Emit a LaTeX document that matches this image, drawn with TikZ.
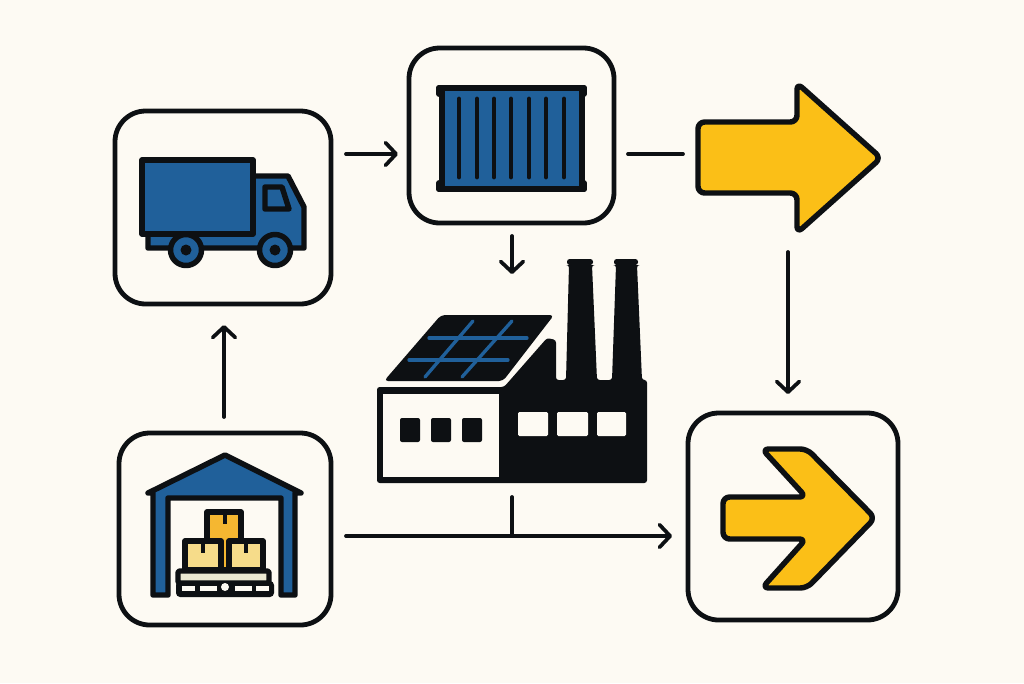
\documentclass[tikz,border=0pt]{standalone}
\usetikzlibrary{arrows.meta}
\definecolor{paper}{HTML}{FDFAF3}
\definecolor{ink}{HTML}{0D1013}
\definecolor{steel}{HTML}{20609A}
\definecolor{amber}{HTML}{FBBF17}
\definecolor{boxtop}{HTML}{F5B731}
\definecolor{boxlow}{HTML}{F6DC8A}
\definecolor{plank}{HTML}{EAE8D2}
\tikzset{
  card/.style={draw=ink,line width=3.6pt,rounded corners=23pt,fill=paper,inner sep=0pt,outer sep=0pt},
  conn/.style={draw=ink,line width=2.8pt,line cap=round},
  tip/.style={conn,-{Straight Barb[length=8pt,width=17pt,line width=2.8pt,round]}},
  icon/.style={draw=ink,line width=4.1pt,line join=round},
  blueicon/.style={icon,fill=steel},
  yellowicon/.style={icon,fill=amber,rounded corners=5pt},
  solid ink/.style={fill=ink,rounded corners=1.5pt},
  grid line/.style={draw=steel,line width=2.5pt,line cap=round},
  rib/.style={draw=ink,line width=3.6pt,line cap=round},
  edge bar/.style={draw=ink,line width=4.4pt,line cap=round},
  tape/.style={draw=ink,line width=3.2pt},
}
\begin{document}
\begin{tikzpicture}[x=0.75pt,y=-0.75pt]
\useasboundingbox (0,0) rectangle (1024,683);
\fill[paper] (0,0) rectangle (1024,683);

% cards
\node[card,minimum width=162pt,minimum height=144.75pt] (truckcard) at (223,207.5) {};
\node[card,minimum width=153.75pt,minimum height=131.25pt] (containercard) at (511.5,135.5) {};
\node[card,minimum width=159pt,minimum height=144pt] (warehousecard) at (225,529) {};
\node[card,minimum width=157.5pt,minimum height=155.25pt] (finalcard) at (793,516.5) {};

% truck
\draw[blueicon] (253,176) -- (288,176) -- (304,207) -- (304,248) -- (148,248) -- (148,232) -- (253,232) -- cycle;
\draw[blueicon] (142,160) rectangle (253,234);
\draw[icon,fill=steel] (265,187) -- (282,187) -- (289,209) -- (265,209) -- cycle;
\foreach \wx in {186,275}{
  \draw[blueicon] (\wx,250) circle[radius=15.5];
  \fill[ink] (\wx,250) circle[radius=5.5];
}

% container
\fill[steel] (442,88) rectangle (582,189);
\draw[edge bar] (439,88) -- (584,88);
\draw[edge bar] (439,189) -- (584,189);
\draw[edge bar] (442,88) -- (442,189);
\draw[edge bar] (582,88) -- (582,189);
\draw[edge bar] (439,88) -- (439,94);
\draw[edge bar] (584,88) -- (584,94);
\draw[edge bar] (439,183) -- (439,189);
\draw[edge bar] (584,183) -- (584,189);
\foreach \rx in {459,477,494,511,529,546,564}{
  \draw[rib] (\rx,99) -- (\rx,177);
}

% yellow arrow, top right
\draw[yellowicon] (698,122) -- (797,122) -- (797,83) -- (881,158) -- (797,233) -- (797,193) -- (698,193) -- cycle;

% yellow arrow, in final card
\draw[yellowicon] (723,497) -- (806,497) -- (762,449) -- (807,449) -- (875,518) -- (807,588) -- (762,588) -- (806,539) -- (723,539) -- cycle;

% factory
\fill[ink,rounded corners=2pt] (377,387) -- (504,387) -- (547,338) -- (556,340) -- (556,380) -- (566,380)
  -- (569,265) -- (567,265) -- (567,259) -- (593,259) -- (593,265) -- (592,265) -- (597,380)
  -- (612,380) -- (616,265) -- (614,265) -- (614,259) -- (638,259) -- (638,265) -- (637,265) -- (642,380)
  -- (647,380) -- (647,483) -- (377,483) -- cycle;
\fill[paper] (383,394) rectangle (499,477);
\foreach \fx in {400,431,462}{
  \fill[solid ink] (\fx,418) rectangle ++(20,24);
}
\foreach \fx/\fw in {518/30,557/31,597/29}{
  \fill[paper,rounded corners=1pt] (\fx,412) rectangle ++(\fw,24);
}
\fill[ink,rounded corners=3pt] (441,315) -- (554,315) -- (503,381) -- (384,381) -- cycle;
\draw[grid line] (429,338) -- (527,338);
\draw[grid line] (409,360) -- (508,360);
\draw[grid line] (473,321) -- (425,377);
\draw[grid line] (512,321) -- (462,377);

% warehouse
\draw[blueicon] (225,455) -- (301,493) -- (295,493) -- (295,595) -- (281,595) -- (281,498) -- (168,498) -- (168,595) -- (153,595) -- (153,493) -- (148,493) -- cycle;
\draw[icon,fill=boxtop] (207,512) rectangle (241,570);
\draw[icon,fill=boxlow] (185,541) rectangle (221,570);
\draw[icon,fill=boxlow] (229,541) rectangle (263,570);
\draw[tape] (225,512) -- (225,524);
\draw[tape] (203,541) -- (203,553);
\draw[tape] (246,541) -- (246,553);
\draw[icon,fill=plank,rounded corners=1.5pt] (178,571) rectangle (269,583);
\fill[ink,rounded corners=3pt] (176,581) rectangle (274,597);
\foreach \px/\pw in {182/13,200/17,235/17,256/13}{
  \fill[paper] (\px,586) rectangle ++(\pw,5);
}
\fill[paper] (225,587) circle[radius=4];

% connector ends
\coordinate (truckout) at (346,154);
\coordinate (containerin) at (398,154);
\coordinate (containerright) at (628,154);
\coordinate (arrowin) at (683,154);
\coordinate (containerdown) at (512,236);
\coordinate (factorytop) at (512,274);
\coordinate (arrowdown) at (788,252);
\coordinate (finaltop) at (788,394);
\coordinate (wareup) at (224,417);
\coordinate (truckbottom) at (224,325);
\coordinate (wareout) at (346,536);
\coordinate (finalin) at (672,536);
\coordinate (factorybottom) at (512,497);
\coordinate (junction) at (512,536);

\draw[tip] (truckout) -- (containerin);
\draw[conn] (containerright) -- (arrowin);
\draw[tip] (containerdown) -- (factorytop);
\draw[tip] (arrowdown) -- (finaltop);
\draw[tip] (wareup) -- (truckbottom);
\draw[tip] (wareout) -- (finalin);
\draw[conn] (factorybottom) -- (junction);
\end{tikzpicture}
\end{document}
